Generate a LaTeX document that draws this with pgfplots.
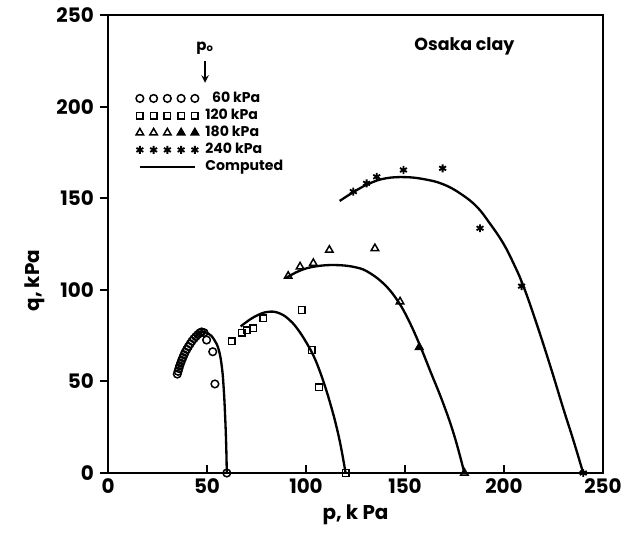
\documentclass[border=0pt]{standalone}
\usepackage{fontspec}
\setmainfont{Poppins}
\usepackage{pgfplots}
\pgfplotsset{compat=1.18}
\pgfplotsset{
  legfive/.style={legend image code/.code={\draw[##1] plot coordinates {(0,0)(8.25bp,0)(16.5bp,0)(24.75bp,0)(33bp,0)};}},
  legtri/.style={legend image code/.code={\draw[##1] plot coordinates {(0,0)(8.25bp,0)(16.5bp,0)}; \draw[##1, mark=triangle*, fill=black] plot coordinates {(24.75bp,0)(33bp,0)};}},
  legline/.style={legend image code/.code={\draw[##1] (0,0) -- (33bp,0);}},
}
\begin{document}
\begin{tikzpicture}
\begin{axis}[
  scale only axis, width=297bp, height=274.8bp,
  xmin=0, xmax=250, ymin=0, ymax=250,
  xtick={0,50,...,250}, ytick={0,50,...,250},
  xtick pos=bottom, ytick pos=left,
  xtick align=inside, ytick align=outside,
  major tick length=5bp,
  axis line style={line width=1.3pt},
  tick style={line width=1.1pt, black},
  /pgf/number format/assume math mode=true,
  tick label style={font=\bfseries\fontsize{12}{14}\selectfont},
  xlabel={p, k Pa}, ylabel={q, kPa},
  label style={font=\bfseries\fontsize{12}{14}\selectfont},
  ylabel style={at={(ticklabel cs:0.42)}},
  clip=false,
  legend cell align=left,
  legend style={at={(axis cs:14,210)}, anchor=north west, draw=none, fill=none,
     font=\bfseries\fontsize{8.5}{10}\selectfont, row sep=-1.5bp, inner sep=0pt},
]
% 60 kPa
\addplot[only marks, mark=o, mark size=2.3pt, line width=0.9pt, legfive]
 coordinates {(35,54)(35.4,55.5)(35.8,57)(36.2,58.5)(36.7,60)(37.2,61.5)(37.8,63)(38.4,64.5)(39,66)(39.8,67.5)(40.6,69)(41.5,70.5)(42.4,72)(43.4,73.3)(44.4,74.5)(45.4,75.6)(46.4,76.5)(47.3,77)(48.5,76.6)(49.8,72.6)(52.9,66.2)(54,48.6)(60,0)};
\addlegendentry{\hspace{6bp}60 kPa}
% 120 kPa
\addplot[only marks, mark=square, mark size=2pt, line width=0.9pt, legfive]
 coordinates {(62.5,72)(67.5,76.5)(70,78)(73.3,79)(78.4,84.4)(97.8,89)(102.9,67.1)(106.6,46.8)(120,0)};
\addlegendentry{\hspace{2bp}120 kPa}
% 180 kPa
\addplot[only marks, mark=triangle, mark size=2.6pt, line width=0.9pt, legtri]
 coordinates {(91,107.5)(97,112.6)(103.7,114.5)(111.8,121.7)(134.8,122.6)(147.5,93.5)(180,0)};
\addlegendentry{\hspace{2bp}180 kPa}
\addplot[only marks, mark=triangle*, fill=black, mark size=2.6pt, line width=0.9pt, forget plot]
 coordinates {(157.2,68.6)};
% 240 kPa
\addplot[only marks, mark=asterisk, mark size=2.4pt, line width=1.1pt, legfive]
 coordinates {(123.9,153.6)(130.6,158.1)(135.7,161.7)(149.2,165.4)(169,166.3)(187.9,133.6)(208.9,102)(240,0)};
\addlegendentry{\hspace{2bp}240 kPa}
% computed
\addplot[smooth, line width=1.4pt, black, tension=0.7, legline]
 coordinates {(117,148.5)(125,154)(132,158)(140,160.8)(150,161.5)(160,160.3)(169.3,157.6)(178,152.5)(186.2,145.4)(193,136)(199.6,125.4)(205,114)(209.8,102)(216,83)(223.2,59)(230,35)(235,18)(240,0)};
\addlegendentry{\hspace{2bp}Computed}
\addplot[smooth, line width=1.4pt, black, tension=0.7, forget plot]
 coordinates {(90,106.5)(97,110.5)(105,112.8)(115,113.5)(125,112.3)(132,109.3)(140,102.5)(146.6,93.5)(152,83)(157.6,69.5)(163,55)(169.3,38)(175,20)(180,0)};
\addplot[smooth, line width=1.4pt, black, tension=0.7, forget plot]
 coordinates {(67,80)(74,85.3)(81,88)(87,87)(92,83.2)(96,78.2)(100.3,71)(104,63.5)(107,55.5)(110,46)(112.5,37)(115,27)(117.5,15)(120,0)};
\addplot[smooth, line width=1.4pt, black, tension=0.7, forget plot]
 coordinates {(44,74.5)(47,77)(50.5,76.2)(53.5,73)(56,67)(57.6,57)(58.5,45)(59.2,30)(59.7,15)(60,0)};
\node[font=\bfseries\fontsize{10.5}{12}\selectfont] at (axis cs:180,233) {Osaka clay};
\node[font=\bfseries\fontsize{9}{10}\selectfont] at (axis cs:49,232) {p$_{\mathbf{o}}$};
\draw[-stealth, line width=1pt] (axis cs:49,225) -- (axis cs:49,213);
\coordinate (sw) at (rel axis cs:0,0);
\coordinate (ne) at (rel axis cs:1,1);
\end{axis}
\pgfresetboundingbox
\path ([shift={(-64.8bp,-43.2bp)}]sw) rectangle ([shift={(12.6bp,9bp)}]ne);
\end{tikzpicture}
\end{document}
